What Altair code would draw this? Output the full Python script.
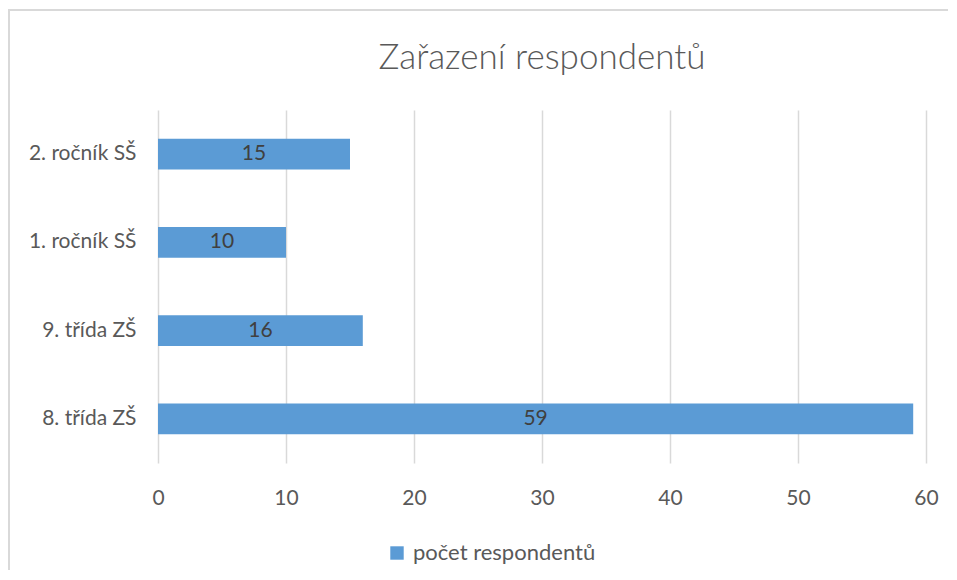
import altair as alt
import pandas as pd

categories = ["2. ročník SŠ", "1. ročník SŠ", "9. třída ZŠ", "8. třída ZŠ"]
values = [15, 10, 16, 59]
series_name = "počet respondentů"
x_ticks = [0, 10, 20, 30, 40, 50, 60]

df = pd.DataFrame({"cat": categories, "val": values, "series": [series_name] * len(categories)})

FONT = "Lato"
TXT = "#595959"
FS = 21
BORDER = "#d9d9d9"

base = alt.Chart(df)

border_left = base.mark_rule(stroke=BORDER, strokeWidth=2).encode(
    x=alt.value(-149), y=alt.value(-101), y2=alt.value(470)
)
border_top = base.mark_rule(stroke=BORDER, strokeWidth=2).encode(
    x=alt.value(-149), x2=alt.value(790), y=alt.value(-100)
)

bars = base.mark_bar(color="#5B9BD5").encode(
    y=alt.Y("cat:N", sort=categories, title=None,
            scale=alt.Scale(paddingInner=0.65, paddingOuter=0.325),
            axis=alt.Axis(domain=False, ticks=False, grid=False, labelFontSize=FS,
                          labelColor=TXT, labelFont=FONT, labelPadding=22)),
    x=alt.X("val:Q", title=None, scale=alt.Scale(domain=[0, 60], nice=False),
            axis=alt.Axis(values=x_ticks, domain=False, ticks=False, gridColor=BORDER,
                          gridWidth=1.5, labelFontSize=FS, labelColor=TXT, labelFont=FONT,
                          labelPadding=24, labelFlush=False)),
    color=alt.Color("series:N", scale=alt.Scale(range=["#5B9BD5"]), title=None,
                    legend=alt.Legend(orient="none", legendX=228, legendY=432,
                                      symbolType="square", symbolSize=180, symbolStrokeWidth=0,
                                      labelFontSize=22, labelColor=TXT, labelFont=FONT,
                                      labelOffset=5, labelLimit=400)),
)

labels = base.mark_text(fontSize=FS, color="#404040", font=FONT).encode(
    y=alt.Y("cat:N", sort=categories),
    x=alt.X("mid:Q"),
    text=alt.Text("val:Q"),
).transform_calculate(mid="datum.val / 2")

chart = alt.layer(border_left, border_top, bars, labels).properties(
    width=768, height=353,
    padding={"left": 150, "top": 102, "right": 22, "bottom": 107},
    autosize=alt.AutoSizeParams(type="none"),
    title=alt.TitleParams("Zařazení respondentů", fontSize=35, font=FONT, fontWeight=300,
                          color=TXT, anchor="middle", offset=-68),
).configure(background="white").configure_view(stroke=None)

chart.save("out.html", embed_options={"renderer": "svg", "actions": False})
